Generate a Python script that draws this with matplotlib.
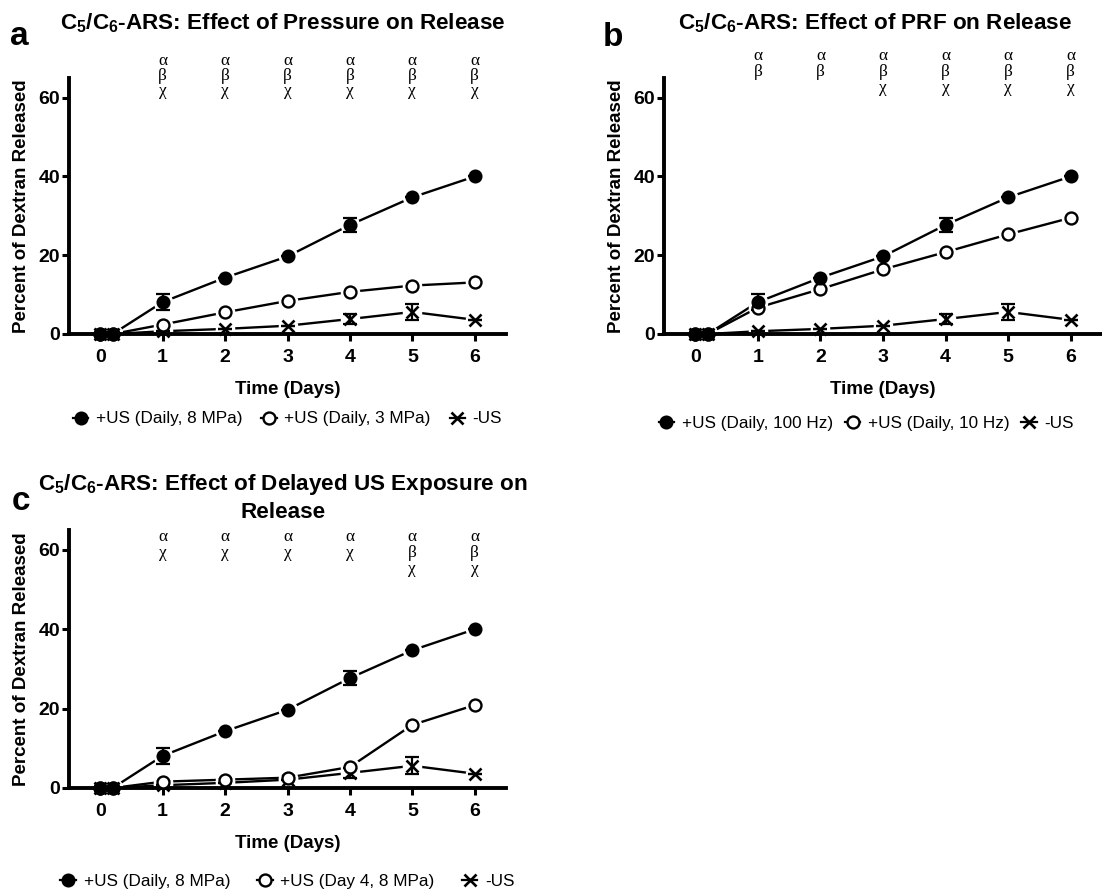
import matplotlib
matplotlib.use("Agg")
import matplotlib.pyplot as plt
from matplotlib.lines import Line2D

plt.rcParams['font.family'] = ['Liberation Sans', 'DejaVu Sans']
plt.rcParams['mathtext.fontset'] = 'custom'
plt.rcParams['mathtext.rm'] = 'Liberation Sans:bold'
plt.rcParams['mathtext.it'] = 'Liberation Sans:bold'
plt.rcParams['mathtext.bf'] = 'Liberation Sans:bold'

W, H = 1102, 890

# Time points (days)
days = [0, 0.2, 1, 2, 3, 4, 5, 6]

# Percent of dextran released
us_daily_8mpa = [0, 0, 8.1, 14.3, 19.7, 27.7, 34.7, 40.0]
us_daily_8mpa_err = [0, 0, 2.1, 0, 0, 1.7, 0, 0]
us_daily_3mpa = [0, 0, 2.4, 5.5, 8.4, 10.7, 12.3, 13.1]
us_daily_10hz = [0, 0, 6.7, 11.4, 16.4, 20.8, 25.3, 29.5]
us_day4_8mpa = [0, 0, 1.6, 2.1, 2.6, 5.3, 15.9, 20.9]
no_us = [0, 0, 0.7, 1.3, 2.1, 3.8, 5.6, 3.6]
no_us_err = [0, 0, 0, 0, 0, 1.2, 2.1, 0]

# Significance letters above days 1..6
sig_days = [1, 2, 3, 4, 5, 6]
sig_a = [["α", "β", "χ"]] * 6
sig_b = [["α", "β"]] * 2 + [["α", "β", "χ"]] * 4
sig_c = [["α", "χ"]] * 4 + [["α", "β", "χ"]] * 2

titles = {
    "a": r"C$_5$/C$_6$-ARS: Effect of Pressure on Release",
    "b": r"C$_5$/C$_6$-ARS: Effect of PRF on Release",
    "c": "C$_5$/C$_6$-ARS: Effect of Delayed US Exposure on\nRelease",
}
legend_labels = {
    "a": ["+US (Daily, 8 MPa)", "+US (Daily, 3 MPa)", "-US"],
    "b": ["+US (Daily, 100 Hz)", "+US (Daily, 10 Hz)", "-US"],
    "c": ["+US (Daily, 8 MPa)", "+US (Day 4, 8 MPa)", "-US"],
}

MS = 8.6
styles = {
    "filled": dict(marker="o", ms=MS, mfc="black", mec="black", mew=1.5),
    "open": dict(marker="o", ms=MS, mfc="white", mec="black", mew=1.7),
    "cross": dict(marker="x", ms=MS - 0.5, mfc="black", mec="black", mew=1.9),
}

fig = plt.figure(figsize=(W / 100, H / 100), dpi=100)


def px_axes(left, top, right, bottom):
    return fig.add_axes([left / W, 1 - bottom / H, (right - left) / W, (bottom - top) / H])


def draw_series(ax, y, err, kind):
    ax.plot(days, y, "-", color="black", lw=1.7, zorder=2, clip_on=False)
    # white ring so lines stop short of the markers
    ax.plot(days, y, "o", ms=MS + 4.5, color="white", zorder=2.3, clip_on=False)
    if err is not None:
        ax.errorbar(days, y, yerr=err, fmt="none", ecolor="black", elinewidth=1.6,
                    capsize=5, capthick=1.6, zorder=3, clip_on=False)
    ax.plot(days, y, ls="none", zorder=4, clip_on=False, **styles[kind])


def style_axes(ax):
    ax.set_axisbelow(False)
    ax.set_xlim(-0.5, 6.5)
    ax.set_ylim(0, 65)
    ax.set_xticks(range(7))
    ax.set_yticks([0, 20, 40, 60])
    for s in ["top", "right"]:
        ax.spines[s].set_visible(False)
    for s in ["left", "bottom"]:
        ax.spines[s].set_linewidth(2.8)
        ax.spines[s].set_zorder(3)
    ax.tick_params(width=2.2, length=5, labelsize=14)
    ax.tick_params(axis="x", pad=5.5)
    ax.tick_params(axis="y", pad=1.5)
    for lab in ax.get_xticklabels() + ax.get_yticklabels():
        lab.set_fontweight("bold")
    ax.set_xlabel("Time (Days)", fontsize=13.5, fontweight="bold", labelpad=11)
    ax.set_ylabel("Percent of Dextran Released", fontsize=13.5, fontweight="bold", labelpad=6)


def panel(key, box, second, sig, sig_rows, title_x, title_y, leg_y, leg_x, colspace):
    ax = px_axes(*box)
    style_axes(ax)
    draw_series(ax, no_us, no_us_err, "cross")
    draw_series(ax, second, None, "open")
    draw_series(ax, us_daily_8mpa, us_daily_8mpa_err, "filled")
    for d, letters in zip(sig_days, sig):
        for i, ch in enumerate(letters):
            ax.text(d, sig_rows[i], ch, ha="center", va="baseline", fontsize=12.5,
                    family=["Liberation Serif", "DejaVu Serif"], clip_on=False)
    ax.text(title_x, title_y, titles[key], transform=ax.transAxes, ha="center", va="baseline",
            fontsize=16.2, fontweight="bold", linespacing=1.3)
    handles = [Line2D([], [], color="black", lw=1.6, **styles[k]) for k in ["filled", "open", "cross"]]
    ax.legend(handles, legend_labels[key], loc="center", bbox_to_anchor=(leg_x, leg_y), ncol=3,
              frameon=False, fontsize=12.3, handlelength=0.9, handletextpad=0.45,
              columnspacing=colspace, borderpad=0)
    return ax


panel("a", (69, 78, 506, 334), us_daily_3mpa, sig_a, [68.2, 64.4, 60.6], 0.49, 1.191, -0.332, 0.5, 1.1)
panel("b", (664, 78, 1102, 334), us_daily_10hz, sig_b, [69.5, 65.6, 61.4], 0.483, 1.191, -0.35, 0.462, 0.7)
panel("c", (69, 530, 506, 788), us_day4_8mpa, sig_c, [62.2, 58.2, 54.2], 0.49, 1.047, -0.364, 0.5, 1.6)

fig.text(10 / W, 1 - 45 / H, "a", fontsize=24, fontweight="bold", va="baseline")
fig.text(603 / W, 1 - 46 / H, "b", fontsize=24, fontweight="bold", va="baseline")
fig.text(12 / W, 1 - 510 / H, "c", fontsize=24, fontweight="bold", va="baseline")

fig.savefig("out.png", dpi=100)
